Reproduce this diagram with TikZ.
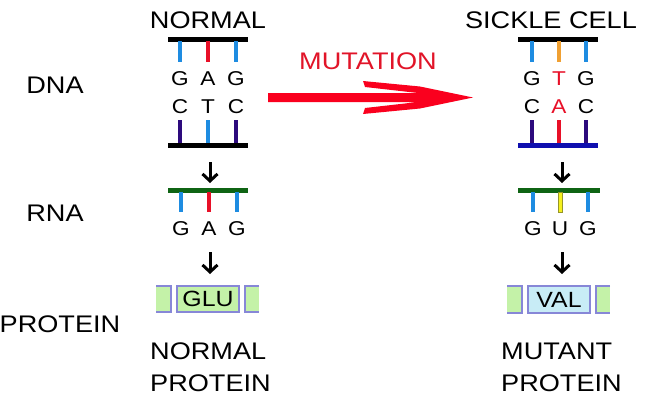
\documentclass[tikz,border=0pt]{standalone}
\usepackage{fontspec}
\setmainfont{Liberation Sans}
\usepackage{graphicx}
\usetikzlibrary{arrows.meta}
\definecolor{tblue}{RGB}{30,140,225}
\definecolor{tred}{RGB}{232,16,40}
\definecolor{tind}{RGB}{45,10,125}
\definecolor{torange}{RGB}{240,160,50}
\definecolor{tyellow}{RGB}{245,240,30}
\definecolor{tolive}{RGB}{150,150,40}
\definecolor{rnagreen}{RGB}{15,100,20}
\definecolor{dblue}{RGB}{15,15,175}
\definecolor{mred}{RGB}{250,0,30}
\definecolor{tred2}{RGB}{225,20,40}
\definecolor{pgreen}{RGB}{196,242,168}
\definecolor{pcyan}{RGB}{200,236,246}
\definecolor{pborder}{RGB}{135,135,215}
\newcommand{\stx}[1]{\scalebox{1.13}[1]{#1}}
\begin{document}
\begin{tikzpicture}[x=1pt,y=-1pt,
  big/.style={inner sep=0pt, font=\fontsize{24}{28}\selectfont},
  basetxt/.style={inner sep=0pt, font=\fontsize{20}{24}\selectfont},
  aatxt/.style={inner sep=0pt, font=\fontsize{22}{26}\selectfont},
  bar/.style={line width=5pt},
  tickline/.style={line width=4.5pt},
  dnarrow/.style={line width=3pt, -{Straight Barb[length=7pt,width=15pt,line width=3pt]}},
  pbox/.style={draw=pborder, line width=1.6pt},
]
\useasboundingbox (0,0) rectangle (658,402);

% ---------- left labels
\node[big] (ldna) at (55,85) {\stx{DNA}};
\node[big] (lrna) at (55,213) {\stx{RNA}};
\node[big] (lprot) at (60,324) {\stx{PROTEIN}};

% ---------- titles
\node[big] (tnorm) at (208,20) {\stx{NORMAL}};
\node[big] (tsick) at (551,20) {\stx{SICKLE CELL}};
\node[big, text=tred2] (tmut) at (368,61) {\stx{MUTATION}};

% ---------- mutation arrow
\fill[mred] (268,93) -- (418,93) -- (365,87) -- (363,81) -- (420,86.5)
  -- (473,97.5) -- (420,108.5) -- (363,114) -- (365,108) -- (418,102)
  -- (268,102) -- cycle;

% ================= NORMAL column
\draw[bar,black] (168,39) -- (248,39);
\draw[tickline,tblue] (180,41) -- (180,62);
\draw[tickline,tred]  (208,41) -- (208,62);
\draw[tickline,tblue] (236,41) -- (236,62);
\node[basetxt] (ng1) at (180,78.5) {\stx{G}};
\node[basetxt] (na1) at (208,78.5) {\stx{A}};
\node[basetxt] (ng2) at (236,78.5) {\stx{G}};
\node[basetxt] (nc1) at (180,107) {\stx{C}};
\node[basetxt] (nt1) at (208,107) {\stx{T}};
\node[basetxt] (nc2) at (236,107) {\stx{C}};
\draw[tickline,tind]  (180,120) -- (180,143);
\draw[tickline,tblue] (208,120) -- (208,143);
\draw[tickline,tind]  (236,120) -- (236,143);
\draw[bar,black] (168,145) -- (248,145);

\coordinate (na1s) at (210,162);
\coordinate (na1e) at (210,183);
\draw[dnarrow] (na1s) -- (na1e);

\draw[bar,rnagreen] (168,190) -- (248,190);
\draw[tickline,tblue] (181,192) -- (181,212);
\draw[tickline,tred]  (209,192) -- (209,212);
\draw[tickline,tblue] (237,192) -- (237,212);
\node[basetxt] (nrg1) at (181,228.5) {\stx{G}};
\node[basetxt] (nra)  at (209,228.5) {\stx{A}};
\node[basetxt] (nrg2) at (237,228.5) {\stx{G}};

\coordinate (na2s) at (210,252);
\coordinate (na2e) at (210,274);
\draw[dnarrow] (na2s) -- (na2e);

\fill[pgreen] (156,286) rectangle (171,312);
\draw[pbox] (156,286) -- (171,286) -- (171,312) -- (156,312);
\node[pbox, fill=pgreen, minimum width=62pt, minimum height=26pt, inner sep=0pt, aatxt] (glu) at (208,299) {\stx{GLU}};
\fill[pgreen] (245,286) rectangle (259,312);
\draw[pbox] (259,286) -- (245,286) -- (245,312) -- (259,312);

\node[big, anchor=west] (np1) at (150,351) {\stx{NORMAL}};
\node[big, anchor=west] (np2) at (150,383) {\stx{PROTEIN}};

% ================= SICKLE column
\draw[bar,black] (518,39) -- (598,39);
\draw[tickline,tblue]   (532,41) -- (532,62);
\draw[tickline,torange] (559,41) -- (559,62);
\draw[tickline,tblue]   (586,41) -- (586,62);
\node[basetxt] (sg1) at (532,78.5) {\stx{G}};
\node[basetxt, text=tred] (st1) at (559,78.5) {\stx{T}};
\node[basetxt] (sg2) at (586,78.5) {\stx{G}};
\node[basetxt] (sc1) at (532,107) {\stx{C}};
\node[basetxt, text=tred] (sa1) at (559,107) {\stx{A}};
\node[basetxt] (sc2) at (586,107) {\stx{C}};
\draw[tickline,tind] (532,120) -- (532,143);
\draw[tickline,tred] (559,120) -- (559,143);
\draw[tickline,tind] (586,120) -- (586,143);
\draw[bar,dblue] (518,145) -- (598,145);

\coordinate (sa1s) at (562,162);
\coordinate (sa1e) at (562,183);
\draw[dnarrow] (sa1s) -- (sa1e);

\draw[bar,rnagreen] (518,190) -- (600,190);
\draw[tickline,tblue] (533,192) -- (533,212);
\fill[tyellow] (558,192) rectangle (562.5,212);
\draw[tolive, line width=0.5pt] (558,192) rectangle (562.5,212);
\draw[tickline,tblue] (588,192) -- (588,212);
\node[basetxt] (srg1) at (533,228.5) {\stx{G}};
\node[basetxt] (sru)  at (560,228.5) {\stx{U}};
\node[basetxt] (srg2) at (588,228.5) {\stx{G}};

\coordinate (sa2s) at (562,252);
\coordinate (sa2e) at (562,274);
\draw[dnarrow] (sa2s) -- (sa2e);

\fill[pgreen] (507,286) rectangle (522,313);
\draw[pbox] (507,286) -- (522,286) -- (522,313) -- (507,313);
\node[pbox, fill=pcyan, minimum width=62pt, minimum height=27pt, inner sep=0pt, aatxt] (val) at (559,299.5) {\stx{VAL}};
\fill[pgreen] (596,286) rectangle (610,313);
\draw[pbox] (610,286) -- (596,286) -- (596,313) -- (610,313);

\node[big, anchor=west] (mp1) at (501,351) {\stx{MUTANT}};
\node[big, anchor=west] (mp2) at (501,383) {\stx{PROTEIN}};
\end{tikzpicture}
\end{document}
